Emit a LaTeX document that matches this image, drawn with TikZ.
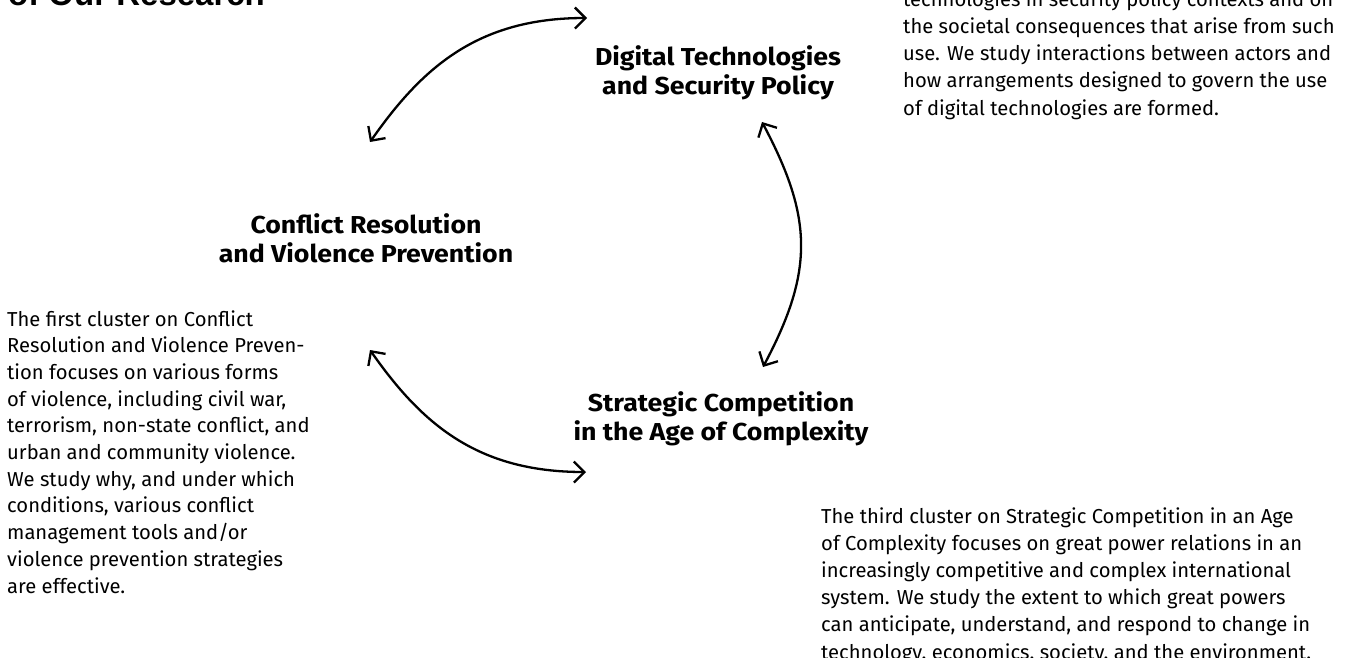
\documentclass[tikz,border=0pt]{standalone}
\usepackage{fontspec}
\setmainfont{Fira Sans}
\newfontfamily\headfont[FakeStretch=1.09]{Fira Sans}
\newfontfamily\titlefont{Liberation Sans}
\usetikzlibrary{arrows.meta}
\begin{document}
\begin{tikzpicture}[x=1pt,y=-1pt,
  body/.style={anchor=base west, align=left, inner sep=0pt, text=black,
    font=\fontsize{20.2}{27.2}\selectfont},
  head/.style={anchor=base, align=center, inner sep=0pt, text=black,
    font=\headfont\bfseries\fontsize{24.5}{28.5}\selectfont},
  link/.style={line width=2.3pt, line cap=round,
    {Straight Barb[length=10.5pt,width=21pt]}-{Straight Barb[length=10.5pt,width=21pt]}}]
\useasboundingbox (0,0) rectangle (1353,657);

% title fragment
\node[anchor=base west, inner sep=0pt, font=\titlefont\bfseries\fontsize{33}{36}\selectfont] (title) at (8,5) {of Our Research};

% headings (anchor at baseline of last line)
\node[head] (digital) at (718,94) {Digital Technologies\\and Security Policy};
\node[head] (conflict) at (366,262) {Conflict Resolution\\and Violence Prevention};
\node[head] (strategic) at (721,440) {Strategic Competition\\in the Age of Complexity};

% paragraphs (anchor at baseline of last line)
\node[body] (ptop) at (903,115) {technologies in security policy contexts and on\\
the societal consequences that arise from such\\
use. We study interactions between actors and\\
how arrangements designed to govern the use\\
of digital technologies are formed.};

\node[body, font=\fontsize{20.2}{26.7}\selectfont] (pleft) at (7,593) {The first cluster on Conflict\\
Resolution and Violence Preven-\\
tion focuses on various forms\\
of violence, including civil war,\\
terrorism, non-state conflict, and\\
urban and community violence.\\
We study why, and under which\\
conditions, various conflict\\
management tools and/or\\
violence prevention strategies\\
are effective.};

\node[body] (pright) at (821,659) {The third cluster on Strategic Competition in an Age\\
of Complexity focuses on great power relations in an\\
increasingly competitive and complex international\\
system. We study the extent to which great powers\\
can anticipate, understand, and respond to change in\\
technology, economics, society, and the environment.};

% arrow end points
\coordinate (a1) at (370,142);
\coordinate (a2) at (587,18);
\coordinate (b1) at (762,122);
\coordinate (b2) at (763,367);
\coordinate (c1) at (370,350);
\coordinate (c2) at (586,472);

\draw[link] (a1) .. controls (421.7,68.3) and (477,18) .. (a2);
\draw[link] (b1) .. controls (813,218) and (814,271) .. (b2);
\draw[link] (c1) .. controls (421.7,423.7) and (477,472) .. (c2);
\end{tikzpicture}
\end{document}
